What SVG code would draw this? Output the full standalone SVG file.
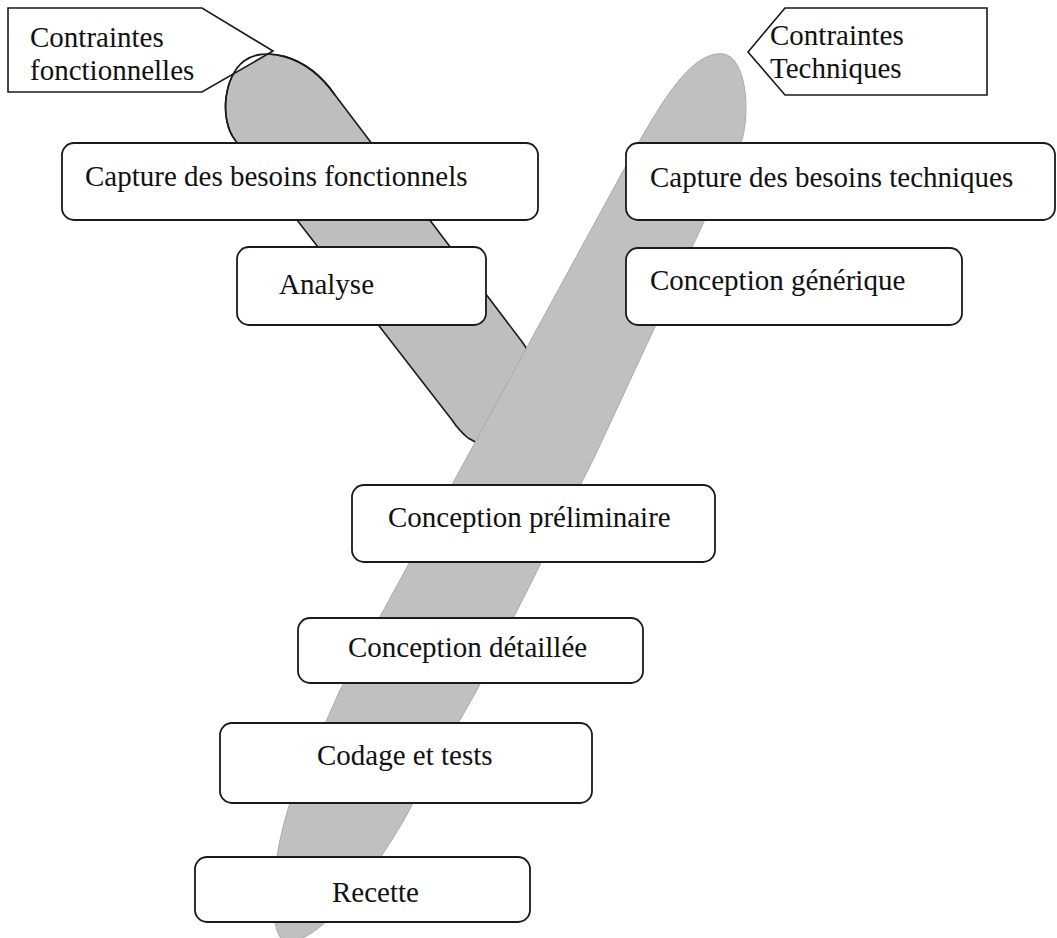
<svg xmlns="http://www.w3.org/2000/svg" width="1057" height="938" viewBox="0 0 1057 938">
<style>
.bg{fill:#ffffff}
.shape{fill:#bebebe}
.outl{fill:none;stroke:#1a1a1a;stroke-width:1.6;stroke-linejoin:round}
.shape2{fill:#c0c0c0;stroke:#a9a9a9;stroke-width:1}
.box{fill:#ffffff;stroke:#1a1a1a;stroke-width:1.8}
.tag{fill:#ffffff;stroke:#1a1a1a;stroke-width:1.6;stroke-linejoin:miter}
.t{font-family:"Liberation Serif","Times New Roman",serif;font-size:29px;fill:#111111}
</style>
<rect class="bg" x="0" y="0" width="1057" height="938"/>
<g id="connectors">
<path id="branch-fonctionnelle" class="shape" d="M235,140 C219,119 224,76 244,61 C262,47 305,52 335,95 L523,343 L552,388 C568,425 520,470 468,438 C462,433 456,426 452,420 Z"/>
<path class="outl" d="M235,140 C219,119 224,76 244,61 C262,47 305,52 335,95 L523,343 L552,388 C568,425 520,470 468,438 C462,433 456,426 452,420 Z"/>
</g>
<g id="contraintes-fonctionnelles">
<polygon class="tag" points="8,8 202,8 273,51 202,92 8,92"/>
<path class="outl" d="M235,140 C219,119 224,76 244,61 C262,47 305,52 335,95"/>
<text class="t" x="30" y="47">Contraintes</text>
<text class="t" x="30" y="80">fonctionnelles</text>
</g>
<g id="branch-technique">
<path class="shape2" d="M723,54 C745,56 751,108 742,140 L593,460 L477,690 L413,803 C395,840 330,940 288,942 C268,942 268,870 290,803 L340,690 L640,140 C658,110 690,50 723,54 Z"/>
</g>
<g id="contraintes-techniques">
<polygon class="tag" points="748,52 785,8 987,8 987,95 785,95"/>
<text class="t" x="770" y="45">Contraintes</text>
<text class="t" x="770" y="78">Techniques</text>
</g>
<g id="capture-fonctionnels">
<rect class="box" x="62" y="143" width="476" height="77" rx="12"/>
<text class="t" x="85" y="186">Capture des besoins fonctionnels</text>
</g>
<g id="analyse">
<rect class="box" x="237" y="247" width="249" height="78" rx="12"/>
<text class="t" x="279" y="294">Analyse</text>
</g>
<g id="capture-techniques">
<rect class="box" x="626" y="143" width="429" height="77" rx="12"/>
<text class="t" x="650" y="187">Capture des besoins techniques</text>
</g>
<g id="conception-generique">
<rect class="box" x="626" y="248" width="336" height="77" rx="12"/>
<text class="t" x="650" y="290">Conception générique</text>
</g>
<g id="conception-preliminaire">
<rect class="box" x="352" y="485" width="363" height="77" rx="12"/>
<text class="t" x="388" y="527">Conception préliminaire</text>
</g>
<g id="conception-detaillee">
<rect class="box" x="298" y="618" width="345" height="65" rx="12"/>
<text class="t" x="348" y="657">Conception détaillée</text>
</g>
<g id="codage-tests">
<rect class="box" x="220" y="723" width="372" height="80" rx="12"/>
<text class="t" x="317" y="765">Codage et tests</text>
</g>
<g id="recette">
<rect class="box" x="195" y="857" width="335" height="65" rx="12"/>
<text class="t" x="332" y="902">Recette</text>
</g>
</svg>
